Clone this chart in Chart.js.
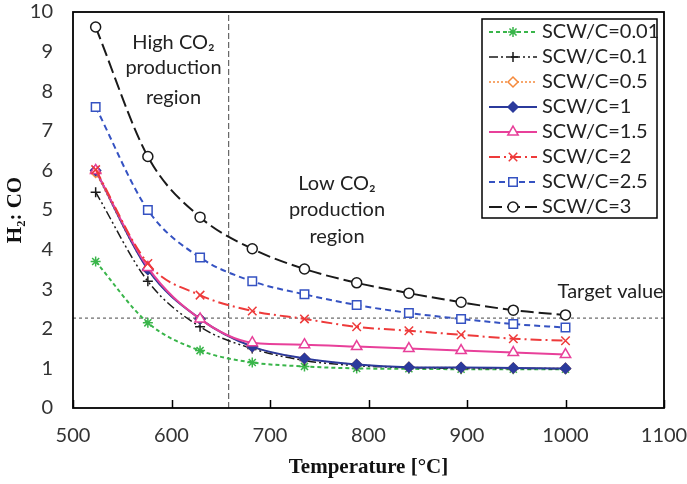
<!DOCTYPE html>
<html><head><meta charset="utf-8">
<script src="https://cdn.jsdelivr.net/npm/chart.js@4.4.0/dist/chart.umd.min.js"></script>
<style>html,body{margin:0;padding:0;background:#fff}#wrap{width:687px;height:484px;position:relative}</style>
</head><body><div id="wrap"><canvas id="c"></canvas></div>
<script>
// ---- data ----
const temperatures = [523, 576, 629, 682, 735, 788, 841, 894, 947, 1000];
const seriesLabels = ['SCW/C=0.01','SCW/C=0.1','SCW/C=0.5','SCW/C=1','SCW/C=1.5','SCW/C=2','SCW/C=2.5','SCW/C=3'];
const h2co_001 = [3.70, 2.15, 1.45, 1.15, 1.05, 1.00, 0.99, 0.98, 0.98, 0.98];
const h2co_01  = [5.45, 3.20, 2.05, 1.50, 1.20, 1.07, 1.02, 1.00, 1.00, 0.99];
const h2co_05  = [5.95, 3.50, 2.25, 1.55, 1.25, 1.10, 1.03, 1.02, 1.01, 1.00];
const h2co_1   = [6.00, 3.50, 2.25, 1.55, 1.25, 1.10, 1.03, 1.02, 1.01, 1.00];
const h2co_15  = [6.00, 3.55, 2.25, 1.65, 1.60, 1.55, 1.50, 1.45, 1.40, 1.35];
const h2co_2   = [6.02, 3.65, 2.85, 2.45, 2.25, 2.05, 1.95, 1.85, 1.75, 1.70];
const h2co_25  = [7.60, 5.00, 3.80, 3.20, 2.87, 2.60, 2.40, 2.25, 2.12, 2.03];
const h2co_3   = [9.62, 6.35, 4.82, 4.02, 3.51, 3.16, 2.90, 2.67, 2.47, 2.35];
const xTickValues = [500, 600, 700, 800, 900, 1000, 1100];
const yTickValues = [0, 1, 2, 3, 4, 5, 6, 7, 8, 9, 10];
const targetValue = 2.27;
const regionBoundaryTemp = 658;
const xTitle = 'Temperature [°C]';
const yTitle = 'H₂: CO';
const highRegionText = ['High CO₂', 'production', 'region'];
const lowRegionText = ['Low CO₂', 'production', 'region'];
const targetText = 'Target value';

// ---- styles ----
const styles = [
  {c:'#39b54a', dash:[4,3], w:2, ps:'star', r:5, fill:'#39b54a'},
  {c:'#1a1a1a', dash:[9,3,2,3,2,3], w:1.5, ps:'cross', r:5, fill:'#1a1a1a'},
  {c:'#f58a3c', dash:[2,2], w:1.5, ps:'rectRot', r:5, fill:'#fff'},
  {c:'#2b3a9c', dash:[], w:2, ps:'rectRot', r:5, fill:'#2b3a9c'},
  {c:'#e8409a', dash:[], w:2, ps:'triangle', r:6, fill:'#fff'},
  {c:'#ee3a3a', dash:[11,4,2,4], w:2, ps:'crossRot', r:6, fill:'#ee3a3a'},
  {c:'#3552c2', dash:[6,4], w:2, ps:'rect', r:6, fill:'#fff'},
  {c:'#1a1a1a', dash:[13,5], w:2, ps:'circle', r:5, fill:'#fff'}
];
const seriesData = [h2co_001, h2co_01, h2co_05, h2co_1, h2co_15, h2co_2, h2co_25, h2co_3];

const datasets = seriesData.map((arr, i) => ({
  label: seriesLabels[i],
  data: arr.map((v, k) => ({x: temperatures[k], y: v})),
  borderColor: styles[i].c,
  backgroundColor: styles[i].fill,
  borderWidth: styles[i].w,
  borderDash: styles[i].dash,
  pointStyle: styles[i].ps,
  pointRadius: styles[i].r,
  pointBorderWidth: 1.5,
  pointBorderColor: styles[i].c,
  pointBackgroundColor: styles[i].fill,
  cubicInterpolationMode: 'monotone',
  order: 8 - i
}));
datasets.push({
  label: '_target',
  data: [{x: xTickValues[0], y: targetValue}, {x: xTickValues[xTickValues.length-1], y: targetValue}],
  borderColor: '#666', borderWidth: 1.2, borderDash: [3,3], pointRadius: 0, order: 20
});
datasets.push({
  label: '_boundary',
  data: [{x: regionBoundaryTemp, y: yTickValues[0]}, {x: regionBoundaryTemp, y: yTickValues[yTickValues.length-1]}],
  borderColor: '#666', borderWidth: 1.2, borderDash: [6,3], pointRadius: 0, order: 20
});

const FONT = 'Lato';

const decorPlugin = {
  id: 'decor',
  afterDatasetsDraw(chart) {
    const {ctx, chartArea: a, scales: {x, y}} = chart;
    ctx.save();
    // inward ticks on x-axis
    ctx.strokeStyle = '#000'; ctx.lineWidth = 1.5; ctx.setLineDash([]);
    xTickValues.forEach(v => {
      const px = Math.round(x.getPixelForValue(v)) + 0.5;
      ctx.beginPath(); ctx.moveTo(px, a.bottom); ctx.lineTo(px, a.bottom - 8); ctx.stroke();
    });
    // frame
    ctx.lineWidth = 1.8;
    ctx.strokeRect(a.left, a.top, a.right - a.left, a.bottom - a.top);
    // annotations
    ctx.fillStyle = '#222';
    ctx.font = '20px ' + FONT;
    ctx.textAlign = 'center'; ctx.textBaseline = 'middle';
    const hiY = [9.24, 8.59, 7.85], loY = [5.68, 5.0, 4.32];
    highRegionText.forEach((t, i) => ctx.fillText(t, x.getPixelForValue(602), y.getPixelForValue(hiY[i])));
    lowRegionText.forEach((t, i) => ctx.fillText(t, x.getPixelForValue(768), y.getPixelForValue(loY[i])));
    ctx.textAlign = 'left';
    ctx.fillText(targetText, x.getPixelForValue(992), y.getPixelForValue(2.95));
    // legend
    const lx = a.right - 182, ly = a.top + 7, lw = 175, lh = 199;
    ctx.fillStyle = '#fff';
    ctx.fillRect(lx, ly, lw, lh);
    ctx.strokeStyle = '#000'; ctx.lineWidth = 1.5;
    ctx.strokeRect(lx, ly, lw, lh);
    const ds = chart.data.datasets.filter(d => !d.label.startsWith('_'));
    ds.forEach((d, i) => {
      const cy = ly + 13 + i * 25;
      ctx.strokeStyle = d.borderColor; ctx.lineWidth = d.borderWidth;
      ctx.setLineDash(d.borderDash || []);
      ctx.beginPath(); ctx.moveTo(lx + 7, cy); ctx.lineTo(lx + 55, cy); ctx.stroke();
      ctx.setLineDash([]);
      ctx.fillStyle = d.pointBackgroundColor; ctx.strokeStyle = d.pointBorderColor; ctx.lineWidth = 1.5;
      Chart.helpers.drawPoint(ctx, {pointStyle: d.pointStyle, radius: d.pointRadius, rotation: 0, borderWidth: 1.5}, lx + 31, cy);
      ctx.fillStyle = '#222';
      ctx.font = '20px ' + FONT; ctx.textAlign = 'left'; ctx.textBaseline = 'middle';
      ctx.fillText(d.label, lx + 60, cy);
    });
    ctx.restore();
  }
};

new Chart(document.getElementById('c'), {
  type: 'line',
  data: {datasets},
  plugins: [decorPlugin],
  options: {
    responsive: true, maintainAspectRatio: false, animation: false,
    devicePixelRatio: 1,
    layout: {padding: {left: 0, right: 23, top: 12, bottom: 0}},
    plugins: {legend: {display: false}, tooltip: {enabled: false}},
    scales: {
      x: {
        type: 'linear', min: xTickValues[0], max: xTickValues[xTickValues.length-1],
        afterBuildTicks: s => { s.ticks = xTickValues.map(v => ({value: v})); },
        afterFit: s => { s.height = 76; s.paddingLeft = 0; s.paddingRight = 0; },
        grid: {display: false, drawTicks: false},
        border: {display: false},
        ticks: {color: '#333', font: {family: FONT, size: 20}, padding: 16, maxRotation: 0, autoSkip: false,
                callback: v => String(v)},
        title: {display: true, text: xTitle, color: '#111', font: {family: 'Liberation Serif', size: 21, weight: 'bold'}, padding: {top: 2, bottom: 4}}
      },
      y: {
        type: 'linear', min: yTickValues[0], max: yTickValues[yTickValues.length-1],
        afterBuildTicks: s => { s.ticks = yTickValues.map(v => ({value: v})); },
        afterFit: s => { s.width = 73; s.paddingTop = 0; s.paddingBottom = 0; },
        grid: {display: false, drawTicks: false},
        border: {display: false},
        ticks: {color: '#333', font: {family: FONT, size: 20}, padding: 20, autoSkip: false,
                callback: v => String(v)},
        title: {display: true, text: yTitle, color: '#111', font: {family: 'Liberation Serif', size: 21, weight: 'bold'}, padding: {top: 3, bottom: 2}}
      }
    }
  }
});
</script>
</body></html>
